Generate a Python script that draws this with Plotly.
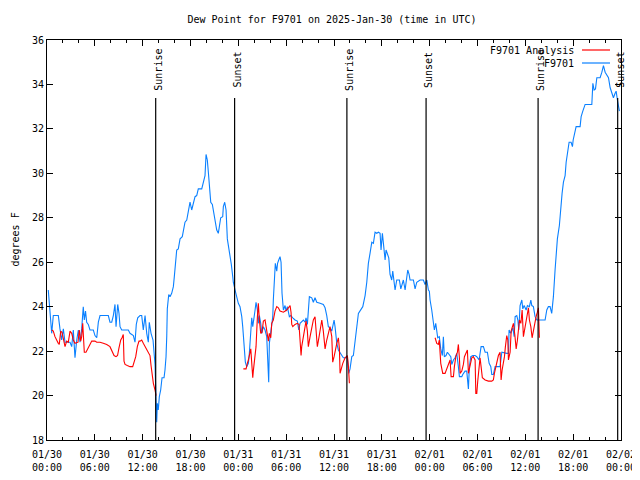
import pandas as pd
import plotly.graph_objects as go

START = pd.Timestamp("2025-01-30 00:00")

# F9701 observations: hours since 2025-01-30 00:00 UTC, dew point (F)
obs_hours = [0.16, 0.38, 0.59, 0.79, 1.42, 1.63, 1.84, 2.05, 2.26, 2.89, 3.10, 3.30, 3.51, 3.73, 3.93, 4.14, 4.35, 4.55, 4.68, 4.83,
             4.98, 5.18, 5.39, 5.81, 6.02, 6.24, 6.44, 6.65, 7.69, 7.90, 8.12, 8.32, 8.53, 8.66, 8.87, 9.03, 9.16, 9.37, 10.20, 10.41,
             10.83, 11.04, 11.20, 11.38, 11.67, 11.88, 12.08, 12.30, 12.51, 12.71, 12.83, 13.05, 13.30, 13.55, 13.68, 13.76, 13.84, 13.96, 14.09, 14.26,
             14.43, 14.68, 14.80, 14.93, 15.02, 15.09, 15.27, 15.43, 15.64, 15.85, 15.97, 16.15, 16.27, 16.47, 16.69, 16.97, 17.10, 17.31, 17.53, 17.82,
             17.94, 18.15, 18.35, 18.57, 18.78, 18.98, 19.41, 19.61, 19.82, 19.95, 20.11, 20.24, 20.36, 20.54, 20.74, 20.86, 21.08, 21.29, 21.49, 21.62,
             21.79, 22.04, 22.12, 22.29, 22.46, 22.62, 22.80, 22.96, 23.12, 23.30, 23.37, 23.59, 23.80, 24.00, 24.21, 24.43, 24.55, 24.72, 24.88, 25.05,
             25.26, 25.38, 25.47, 25.68, 25.81, 25.91, 26.10, 26.22, 26.39, 26.51, 26.64, 26.81, 26.94, 27.14, 27.35, 27.56, 27.69, 27.81, 27.89, 28.07,
             28.32, 28.39, 28.52, 28.64, 28.82, 28.92, 29.07, 29.23, 29.36, 29.48, 29.65, 29.86, 29.99, 30.15, 30.40, 30.57, 30.83, 31.11, 31.40, 31.58,
             31.74, 31.95, 32.16, 32.37, 32.49, 32.66, 32.78, 32.91, 33.21, 33.41, 33.62, 33.84, 34.25, 34.66, 34.88, 35.09, 35.29, 35.50, 35.72, 35.84,
             36.01, 36.13, 36.35, 36.55, 36.76, 37.17, 37.68, 37.85, 38.01, 38.23, 38.43, 38.64, 38.86, 39.06, 39.61, 39.90, 40.11, 40.31, 40.52, 40.74,
             40.94, 41.15, 41.36, 41.57, 41.78, 41.90, 42.07, 42.19, 42.41, 42.53, 42.69, 42.87, 43.03, 43.24, 43.37, 43.53, 43.66, 43.87, 44.20, 44.38,
             44.54, 44.70, 44.92, 45.08, 45.25, 45.42, 45.54, 45.96, 46.17, 46.38, 46.80, 47.21, 47.42, 47.64, 47.84, 47.96, 48.05, 48.26, 48.46, 48.59,
             48.76, 48.89, 49.01, 49.21, 49.39, 49.59, 49.72, 49.84, 50.05, 50.22, 50.47, 50.65, 50.77, 50.98, 51.19, 51.40, 51.60, 51.73, 52.03, 52.15,
             52.44, 52.65, 52.86, 52.98, 53.16, 53.41, 53.70, 53.91, 54.20, 54.45, 54.74, 54.96, 55.24, 55.46, 55.67, 55.79, 55.99, 56.21, 56.83, 57.05,
             57.67, 57.88, 57.96, 58.18, 58.43, 58.60, 58.72, 58.93, 59.06, 59.18, 59.34, 59.56, 59.68, 59.85, 60.10, 60.26, 60.51, 60.69, 60.81, 61.01,
             61.22, 61.44, 62.48, 62.69, 62.89, 63.10, 63.31, 63.52, 63.73, 63.86, 64.02, 64.27, 64.45, 64.61, 64.78, 64.99, 65.12, 65.28, 65.49, 65.74,
             65.91, 66.00, 66.16, 66.37, 66.87, 67.00, 67.21, 67.50, 68.34, 68.47, 68.63, 68.80, 68.97, 69.38, 69.60, 69.80, 70.01, 70.43, 70.64, 70.85,
             71.05, 71.26, 71.39, 71.55, 71.73, 71.80]
obs_dewpt = [24.75, 23.7, 22.8, 23.6, 23.6, 23.0, 22.5, 23.0, 22.4, 22.4, 22.2, 22.95, 21.7, 22.5, 22.95, 22.4, 23.0, 24.0, 23.4, 23.8,
             23.3, 23.2, 22.95, 22.95, 22.7, 22.6, 23.3, 23.6, 23.6, 23.3, 23.3, 23.6, 24.1, 23.1, 24.1, 23.7, 23.1, 22.95, 22.95, 22.8,
             22.7, 22.4, 23.2, 23.5, 23.6, 23.6, 22.95, 23.6, 22.8, 22.4, 23.3, 22.8, 22.5, 21.4, 20.0, 18.8, 19.65, 19.35, 19.95, 20.25,
             20.8, 20.8, 21.15, 21.75, 22.65, 23.9, 24.55, 24.45, 24.6, 24.9, 25.35, 26.2, 26.55, 26.6, 27.05, 27.15, 27.35, 27.8, 27.9, 28.5,
             28.7, 28.35, 28.7, 28.95, 29.0, 29.3, 29.3, 29.55, 29.9, 30.85, 30.6, 30.05, 29.55, 28.7, 28.6, 28.3, 27.9, 27.45, 27.3, 27.6,
             28.0, 28.05, 28.5, 28.7, 28.35, 27.05, 26.7, 26.3, 25.9, 25.35, 25.1, 24.75, 24.45, 24.15, 24.0, 23.55, 23.1, 22.05, 21.5, 21.3,
             21.45, 21.9, 22.5, 23.5, 23.1, 23.3, 23.85, 24.2, 23.85, 23.25, 23.6, 23.25, 22.8, 23.1, 22.95, 22.65, 21.2, 20.6, 22.35, 22.9,
             23.55, 24.3, 25.65, 25.95, 25.6, 25.95, 26.1, 26.25, 26.0, 24.6, 23.85, 24.05, 23.8, 24.0, 23.55, 23.6, 23.5, 23.4, 23.35, 22.95,
             23.25, 23.35, 23.4, 23.3, 23.5, 23.2, 24.0, 24.45, 24.4, 24.2, 24.4, 24.2, 24.15, 24.1, 23.95, 23.6, 23.1, 23.05, 22.9, 23.2,
             23.4, 23.1, 22.35, 22.05, 21.95, 21.7, 21.7, 21.0, 21.2, 21.75, 21.8, 22.5, 23.2, 23.7, 24.0, 24.5, 25.1, 25.95, 26.4, 26.9,
             26.85, 27.35, 27.3, 27.35, 27.3, 26.55, 27.3, 26.8, 26.1, 26.55, 26.4, 26.2, 25.45, 25.2, 25.6, 25.1, 24.75, 25.2, 25.2, 24.8,
             25.05, 25.2, 24.75, 25.2, 25.65, 25.45, 25.2, 25.2, 24.8, 25.1, 25.2, 25.2, 25.0, 25.2, 24.75, 24.7, 24.3, 23.85, 23.4, 22.95,
             23.25, 22.8, 22.6, 22.65, 22.1, 21.8, 22.65, 21.75, 21.8, 21.95, 21.8, 21.75, 21.4, 21.6, 21.7, 21.9, 21.3, 20.85, 20.85, 20.95,
             21.1, 21.1, 20.3, 21.3, 21.75, 21.8, 21.8, 21.75, 21.6, 22.2, 22.2, 21.95, 21.95, 21.45, 21.3, 20.95, 20.95, 21.3, 21.3, 21.95,
             21.9, 21.9, 22.95, 22.8, 23.05, 22.65, 23.55, 23.6, 23.4, 22.95, 24.05, 24.3, 23.9, 24.05, 23.85, 24.05, 24.0, 24.3, 24.05, 24.0,
             23.55, 23.4, 23.4, 23.85, 24.0, 24.0, 23.7, 24.45, 25.65, 26.25, 27.05, 27.65, 28.5, 29.1, 29.6, 29.9, 30.5, 30.95, 31.4, 31.4,
             31.2, 31.5, 31.8, 32.1, 32.1, 32.55, 32.8, 33.1, 33.1, 34.05, 33.75, 33.8, 34.3, 34.3, 34.55, 34.85, 34.55, 34.3, 33.85, 33.55,
             33.4, 33.6, 33.7, 33.3, 32.95, 32.8]

# F9701 Analysis: three segments (hours since start, dew point F)
ana1_hours = [0.59, 0.79, 1.00, 1.22, 1.42, 1.54, 1.72, 1.88, 2.05, 2.26, 2.47, 2.67, 2.89, 3.10, 3.30, 3.51, 3.89, 4.05, 4.23, 4.35,
              4.48, 4.55, 4.68, 4.89, 5.18, 5.39, 5.61, 6.02, 6.24, 6.65, 7.06, 7.49, 7.90, 8.12, 8.41, 8.66, 8.85, 9.03, 9.25, 9.41,
              9.57, 9.66, 9.79, 10.07, 10.41, 10.75, 10.95, 11.13, 11.33, 11.54, 11.67, 11.88, 12.08, 12.30, 12.51, 12.71, 12.92, 13.05, 13.21, 13.34,
              13.55, 13.68]
ana1_dewpt = [22.95, 22.9, 22.65, 22.45, 22.35, 22.3, 22.9, 22.85, 22.6, 22.2, 22.45, 22.4, 22.9, 22.8, 22.5, 22.35, 22.4, 22.95, 22.45, 22.65,
              23.25, 22.5, 21.95, 21.95, 22.2, 22.3, 22.45, 22.45, 22.4, 22.4, 22.35, 22.3, 22.2, 22.05, 21.8, 21.75, 21.8, 22.15, 22.5, 22.6,
              22.75, 21.55, 21.4, 21.35, 21.3, 21.3, 21.5, 21.75, 22.2, 22.45, 22.45, 22.5, 22.35, 22.2, 22.05, 21.9, 21.8, 21.35, 20.85, 20.55,
              20.25, 20.0]
ana2_hours = [24.63, 24.97, 25.13, 25.26, 25.56, 25.68, 25.81, 25.88, 26.10, 26.22, 26.39, 26.51, 26.64, 26.81, 26.97, 27.14, 27.35, 27.56, 27.77, 27.89,
              28.07, 28.19, 28.39, 28.60, 28.82, 29.02, 29.23, 29.65, 29.86, 30.07, 30.49, 30.61, 30.70, 30.83, 31.11, 31.40, 31.61, 31.74, 31.87, 31.95,
              32.16, 32.28, 32.49, 32.66, 32.78, 33.00, 33.21, 33.41, 33.62, 33.75, 33.91, 34.13, 34.34, 34.47, 34.66, 34.88, 35.09, 35.29, 35.50, 35.72,
              35.84, 36.01, 36.17, 36.35, 36.55, 36.68, 36.76, 36.89, 37.10, 37.39, 37.68, 37.80, 37.93]
ana2_dewpt = [21.2, 21.2, 21.45, 21.6, 22.1, 21.45, 20.8, 21.1, 21.75, 22.2, 23.55, 24.15, 23.4, 22.8, 22.85, 23.35, 23.4, 22.9, 22.45, 22.8,
              22.6, 23.25, 23.4, 23.8, 24.0, 23.95, 23.8, 23.75, 23.8, 23.85, 24.05, 23.75, 23.2, 23.1, 23.2, 23.25, 23.2, 22.6, 21.8, 22.2,
              22.65, 23.05, 23.35, 22.9, 22.2, 22.65, 23.05, 23.4, 23.55, 22.8, 22.2, 22.65, 23.1, 23.4, 22.9, 22.1, 22.5, 22.8, 23.1, 22.65,
              21.5, 21.75, 22.1, 22.35, 22.6, 22.1, 21.0, 21.2, 21.45, 21.7, 21.8, 21.35, 20.55]
ana3_hours = [48.68, 48.89, 49.09, 49.21, 49.39, 49.64, 49.93, 50.14, 50.34, 50.56, 50.69, 50.98, 51.10, 51.28, 51.48, 51.60, 51.73, 51.82, 52.03, 52.23,
              52.36, 52.56, 52.73, 52.86, 53.16, 53.28, 53.48, 53.70, 53.79, 53.91, 54.03, 54.20, 54.32, 54.45, 54.61, 54.96, 55.37, 55.79, 55.99, 56.12,
              56.33, 56.62, 56.83, 56.96, 57.09, 57.25, 57.38, 57.50, 57.67, 57.80, 57.88, 58.09, 58.22, 58.38, 58.51, 58.69, 58.85, 59.01, 59.14, 59.26,
              59.44, 59.60, 59.76, 59.98, 60.19, 60.39, 60.51, 60.69, 60.85, 61.01, 61.19, 61.35, 61.51, 61.64, 61.76]
ana3_dewpt = [22.6, 22.35, 22.3, 22.5, 21.45, 21.0, 21.0, 21.2, 21.45, 21.6, 20.85, 20.85, 21.3, 21.75, 21.95, 22.3, 21.7, 21.0, 21.1, 21.4,
              21.75, 21.95, 22.05, 21.0, 21.45, 21.7, 21.75, 21.6, 20.1, 20.1, 20.65, 21.2, 21.7, 21.3, 20.8, 20.7, 20.65, 20.65, 20.7, 21.0,
              21.3, 21.8, 21.95, 20.7, 21.15, 21.45, 21.75, 22.2, 22.7, 22.5, 21.6, 21.95, 22.9, 23.1, 23.25, 22.7, 22.1, 22.5, 22.95, 23.4,
              23.25, 23.85, 22.65, 23.05, 23.5, 23.95, 23.4, 23.1, 22.6, 22.95, 23.2, 23.55, 23.75, 23.95, 22.6]

sun_events = ["Sunrise", "Sunset", "Sunrise", "Sunset", "Sunrise", "Sunset"]
sun_times = ["2025-01-30 13:38", "2025-01-30 23:32", "2025-01-31 13:37",
             "2025-01-31 23:33", "2025-02-01 13:36", "2025-02-01 23:35"]

y_ticks = [18, 20, 22, 24, 26, 28, 30, 32, 34, 36]

BLUE = "#0a80ff"
RED = "#ff0000"
FONT = "DejaVu Sans Mono"


def to_time(hours):
    return [START + pd.Timedelta(hours=h) for h in hours]


ana_x, ana_y = [], []
for hrs, vals in [(ana1_hours, ana1_dewpt), (ana2_hours, ana2_dewpt), (ana3_hours, ana3_dewpt)]:
    ana_x += to_time(hrs) + [None]
    ana_y += vals + [None]

fig = go.Figure()
fig.add_trace(go.Scatter(x=to_time(obs_hours), y=obs_dewpt, mode="lines", name="F9701",
                         line=dict(color=BLUE, width=1.1), showlegend=False))
fig.add_trace(go.Scatter(x=ana_x, y=ana_y, mode="lines", name="F9701 Analysis", connectgaps=False,
                         line=dict(color=RED, width=1.1), showlegend=False))

# page offset: the browser's default body margin places the figure at (8, 8)
OFF = 8
W, H = 640 - OFF, 480 - OFF
L, T = 47 - OFF, 40 - OFF          # plot area starts at page px (47, 40)
PW, PH = 574, 400                  # plot area size in px
R, B = W - L - PW, H - T - PH


def px_x(px):
    return (px - 47) / PW


def px_y(py):
    return 1 - (py - 40) / PH


shapes, annots = [], []
for name, t in zip(sun_events, sun_times):
    shapes.append(dict(type="line", xref="x", yref="paper", x0=t, x1=t, y0=0, y1=px_y(98),
                       line=dict(color="black", width=1.2)))
    annots.append(dict(text=name, x=t, xref="x", y=px_y(70), yref="paper", textangle=-90,
                       showarrow=False, xanchor="center", yanchor="middle", xshift=3,
                       font=dict(family=FONT, size=10, color="black")))

# legend drawn gnuplot-style (text then line sample)
for label, color, py in [("F9701 Analysis", RED, 50), ("F9701", BLUE, 63)]:
    annots.append(dict(text=label, x=px_x(576), y=px_y(py), xref="paper", yref="paper",
                       xanchor="right", yanchor="middle", showarrow=False,
                       font=dict(family=FONT, size=10, color="black")))
    shapes.append(dict(type="line", xref="paper", yref="paper", x0=px_x(582), x1=px_x(610),
                       y0=px_y(py), y1=px_y(py), line=dict(color=color, width=1.2)))

annots.append(dict(text="degrees F", x=px_x(8), y=0.5, xref="paper", yref="paper", textangle=-90,
                   showarrow=False, xanchor="left", yanchor="middle", borderpad=0,
                   font=dict(family=FONT, size=10, color="black")))

fig.update_layout(
    width=W, height=H,
    margin=dict(l=L, r=R, t=T, b=B, autoexpand=False),
    paper_bgcolor="white", plot_bgcolor="white",
    font=dict(family=FONT, size=10, color="black"),
    title=dict(text="Dew Point for F9701 on 2025-Jan-30 (time in UTC)", x=px_x(332), xref="paper",
               xanchor="center", y=1 - (19 - OFF) / H, yref="container", yanchor="middle",
               font=dict(family=FONT, size=10, color="black"), automargin=False),
    shapes=shapes, annotations=annots,
    showlegend=False,
)
fig.update_xaxes(
    type="date", range=["2025-01-30 00:00", "2025-02-02 00:00"], automargin=False,
    tick0="2025-01-30 00:00", dtick=6 * 3600 * 1000, tickformat="%m/%d<br>%H:%M",
    ticks="inside", ticklen=6, tickcolor="black", showline=True, linecolor="black", linewidth=1,
    mirror="ticks", showgrid=False, zeroline=False, ticklabelstandoff=5,
    minor=dict(dtick=2 * 3600 * 1000, tick0="2025-01-30 00:00", ticks="inside", ticklen=3,
               tickcolor="black", showgrid=False),
    tickfont=dict(family=FONT, size=10, color="black"),
)
fig.update_yaxes(
    range=[18, 36], tickvals=y_ticks, ticktext=[str(v) for v in y_ticks], automargin=False,
    ticks="inside", ticklen=6, tickcolor="black", showline=True, linecolor="black", linewidth=1,
    mirror="ticks", showgrid=False, zeroline=False,
    tickfont=dict(family=FONT, size=10, color="black"),
)

fig.write_html("out.html")
